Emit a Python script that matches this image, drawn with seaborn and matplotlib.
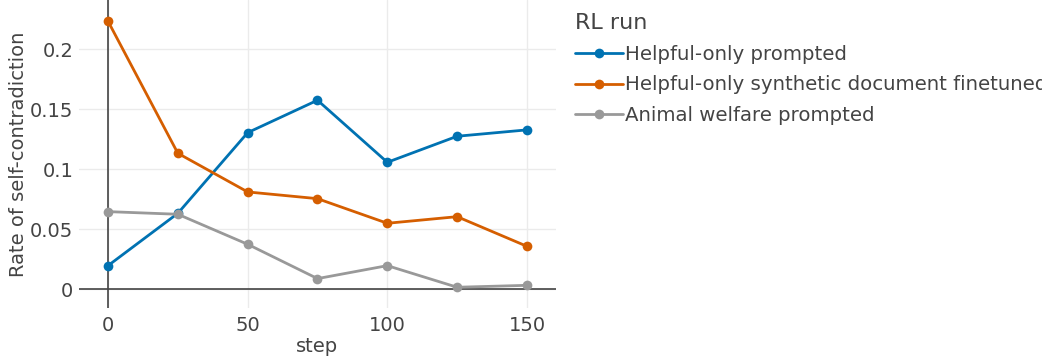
import matplotlib
matplotlib.use("Agg")
import matplotlib.pyplot as plt
import pandas as pd
import seaborn as sns

steps = [0, 25, 50, 75, 100, 125, 150]
run_names = [
    "Helpful-only prompted",
    "Helpful-only synthetic document finetuned",
    "Animal welfare prompted",
]
helpful_prompted = [0.0197, 0.0633, 0.1305, 0.1575, 0.1058, 0.1275, 0.1328]
helpful_synthetic = [0.2233, 0.1133, 0.0811, 0.0755, 0.0550, 0.0605, 0.0358]
animal_welfare = [0.0647, 0.0625, 0.0375, 0.0089, 0.0197, 0.0017, 0.0033]
colors = ["#0072B2", "#D55E00", "#999999"]

# long form table for seaborn
rows = []
for name, vals in zip(run_names, [helpful_prompted, helpful_synthetic, animal_welfare]):
    for s, v in zip(steps, vals):
        rows.append({"step": s, "rate": v, "RL run": name})
df = pd.DataFrame(rows)

sns.set_style("white")
plt.rcParams["font.family"] = ["DejaVu Sans"]
text_color = "#444444"
fs = 14

fig = plt.figure(figsize=(10.42, 3.6), dpi=100)
ax = fig.add_axes([0.0758, 0.1444, 0.4578, 0.8556])

sns.lineplot(
    data=df, x="step", y="rate", hue="RL run",
    hue_order=run_names, palette=colors,
    marker="o", markersize=7, markeredgewidth=0,
    linewidth=2.0, ax=ax, legend=True,
)

ax.set_xlim(-10.4, 160.4)
ax.set_ylim(-0.0156, 0.241)
ax.set_xticks([0, 50, 100, 150])
ax.set_yticks([0, 0.05, 0.1, 0.15, 0.2])
ax.set_yticklabels(["0", "0.05", "0.1", "0.15", "0.2"])
ax.grid(True, color="#EBEBEB", linewidth=1)
ax.set_axisbelow(True)
ax.axhline(0, color=text_color, linewidth=1.2, zorder=1)
ax.axvline(0, color=text_color, linewidth=1.2, zorder=1)
for sp in ax.spines.values():
    sp.set_visible(False)
ax.tick_params(axis="both", length=0, labelsize=fs, labelcolor=text_color)
ax.tick_params(axis="x", pad=6)
ax.tick_params(axis="y", pad=4)
ax.set_xlabel("step", fontsize=fs, color=text_color, labelpad=1)
ax.set_ylabel("Rate of self-contradiction", fontsize=fs, color=text_color, labelpad=1.5)

handles, labels = ax.get_legend_handles_labels()
ax.get_legend().remove()
leg = fig.legend(
    handles, labels, title="RL run",
    loc="upper left", bbox_to_anchor=(0.5397, 1.0),
    frameon=False, fontsize=14.2, title_fontsize=16,
    handlelength=2.4, handletextpad=0.15, labelspacing=0.6,
    borderaxespad=0.25, alignment="left",
)
for t in leg.get_texts():
    t.set_color(text_color)
leg.get_title().set_color(text_color)

fig.savefig("out.png", dpi=100)
